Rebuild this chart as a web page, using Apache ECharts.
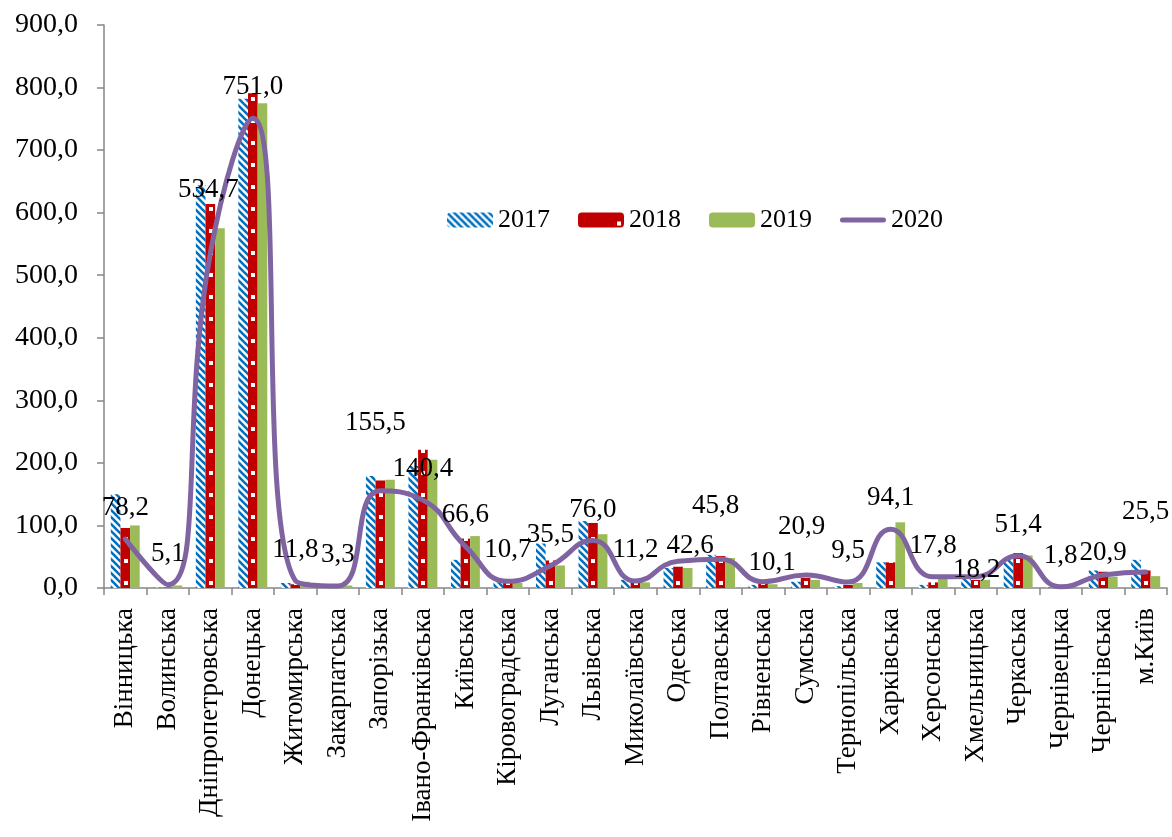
<!DOCTYPE html>
<html>
<head>
<meta charset="utf-8">
<script src="https://cdn.jsdelivr.net/npm/echarts@6/dist/echarts.min.js"></script>
<style>
html,body{margin:0;padding:0;background:#fff;}
#chart{width:1172px;height:837px;}
</style>
</head>
<body>
<div id="chart"></div>
<script>
const categories = ['Вінницька','Волинська','Дніпропетровська','Донецька','Житомирська','Закарпатська','Запорізька','Івано-Франківська','Київська','Кіровоградська','Луганська','Львівська','Миколаївська','Одеська','Полтавська','Рівненська','Сумська','Тернопільська','Харківська','Херсонська','Хмельницька','Черкаська','Чернівецька','Чернігівська','м.Київ'];
const values2017 = [150, 0.5, 644, 782, 8, 0.6, 179, 195, 45, 9, 71, 107, 13, 32, 53, 5, 10, 3, 41, 5, 18, 45, 0.8, 28, 45];
const values2018 = [96, 0.5, 614, 791, 6, 0.8, 172, 221, 79, 11, 44, 104, 9, 34, 51, 9, 16, 5, 41, 9, 13, 56, 0.8, 26, 28];
const values2019 = [100, 4, 575, 775, 10, 4, 173, 205, 83, 8, 36, 86, 9, 32, 48, 6, 13, 8, 105, 16, 13, 52, 1.0, 18, 19];
const values2020 = [78.2, 5.1, 534.7, 751.0, 11.8, 3.3, 155.5, 140.4, 66.6, 10.7, 35.5, 76.0, 11.2, 42.6, 45.8, 10.1, 20.9, 9.5, 94.1, 17.8, 18.2, 51.4, 1.8, 20.9, 25.5];
const seriesNames = ['2017', '2018', '2019', '2020'];
const yTicks = {min: 0, max: 900, interval: 100};

// label nudges (layout only): [dx, dy] in pixels
const labelNudge = {2: [-2, -33], 6: [-5, -37], 13: [12, 16], 14: [-5, -22], 15: [9, 12], 16: [-4, -17], 20: [1, 24], 23: [0, 9], 24: [0, -29]};

const FONT = 'Liberation Serif';
// legend line icon: a 5px rounded bar inside a 46x15 box
const LINE_ICON = 'path://M0,0 L0.01,0 M2.5,5 L43.5,5 A2.5,2.5 0 0 1 43.5,10 L2.5,10 A2.5,2.5 0 0 1 2.5,5 Z M45.99,15 L46,15';

function bluePattern() {
  const c = document.createElement('canvas');
  c.width = 7; c.height = 7;
  const g = c.getContext('2d');
  g.fillStyle = '#ffffff'; g.fillRect(0, 0, 7, 7);
  g.strokeStyle = '#0070C0'; g.lineWidth = 2.6;
  for (const o of [-7, 0, 7]) {
    g.beginPath(); g.moveTo(o - 1, -1); g.lineTo(o + 8, 8); g.stroke();
  }
  return {image: c, repeat: 'repeat'};
}
function redPattern() {
  const c = document.createElement('canvas');
  c.width = 85; c.height = 22;
  const g = c.getContext('2d');
  g.fillStyle = '#C00000'; g.fillRect(0, 0, 85, 22);
  g.fillStyle = '#ffffff';
  g.fillRect(39, 9, 4, 4);
  g.fillRect(81, 9, 4, 4);
  return {image: c, repeat: 'repeat'};
}

const fmt = v => Number(v).toFixed(1).replace('.', ',');

const chart = echarts.init(document.getElementById('chart'), null, {renderer: 'canvas'});

const barCommon = {type: 'bar', barGap: '0%', barCategoryGap: '32%'};

chart.setOption({
  animation: false,
  backgroundColor: '#ffffff',
  textStyle: {fontFamily: FONT},
  grid: {left: 104, right: 5, top: 25, bottom: 249, containLabel: false},
  legend: {
    left: 447, top: 207, padding: 0,
    itemWidth: 46, itemHeight: 15, itemGap: 28,
    textStyle: {fontFamily: FONT, fontSize: 26, color: '#000'},
    data: [
      {name: seriesNames[0]},
      {name: seriesNames[1]},
      {name: seriesNames[2]},
      {name: seriesNames[3], icon: LINE_ICON, itemStyle: {color: '#8064A2'}}
    ]
  },
  xAxis: {
    type: 'category',
    data: categories,
    boundaryGap: true,
    axisLine: {lineStyle: {color: '#868686', width: 1.5}},
    axisTick: {show: true, alignWithLabel: false, length: 7, lineStyle: {color: '#868686', width: 1.5}},
    axisLabel: {rotate: 90, interval: 0, margin: 20, fontFamily: FONT, fontSize: 27, color: '#000'},
    splitLine: {show: false}
  },
  yAxis: {
    type: 'value',
    min: yTicks.min, max: yTicks.max, interval: yTicks.interval,
    axisLine: {show: true, lineStyle: {color: '#868686', width: 1.5}},
    axisTick: {show: true, length: 7, lineStyle: {color: '#868686', width: 1.5}},
    axisLabel: {formatter: fmt, fontFamily: FONT, fontSize: 28, color: '#000', margin: 26},
    splitLine: {show: false}
  },
  series: [
    Object.assign({}, barCommon, {name: seriesNames[0], data: values2017, itemStyle: {color: bluePattern()}}),
    Object.assign({}, barCommon, {name: seriesNames[1], data: values2018, itemStyle: {color: redPattern()}}),
    Object.assign({}, barCommon, {name: seriesNames[2], data: values2019, itemStyle: {color: '#9BBB59'}}),
    {
      name: seriesNames[3], type: 'line', data: values2020, smooth: 0.5,
      symbol: 'none', showSymbol: false, z: 5,
      lineStyle: {color: '#8064A2', width: 5, cap: 'round'},
      itemStyle: {color: '#8064A2'}
    },
    {
      name: seriesNames[3] + ' labels', type: 'line', data: values2020,
      symbol: 'circle', symbolSize: 1, showSymbol: true, z: 6,
      lineStyle: {opacity: 0, width: 0},
      itemStyle: {opacity: 0},
      label: {show: true, position: 'top', distance: 17, formatter: p => fmt(p.value), fontFamily: FONT, fontSize: 27, color: '#000', opacity: 1},
      labelLayout: function (p) {
        const n = labelNudge[p.dataIndex];
        const r = {hideOverlap: false};
        if (n) { r.dx = n[0]; r.dy = n[1]; }
        return r;
      },
      silent: true
    }
  ]
});
</script>
</body>
</html>
